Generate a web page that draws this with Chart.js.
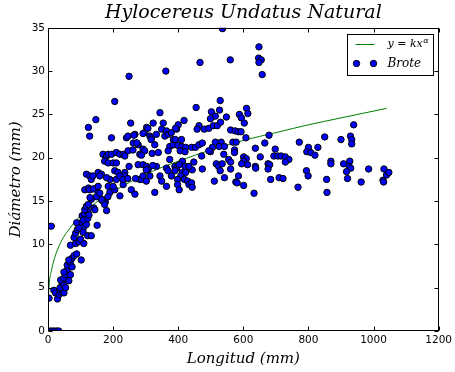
<!DOCTYPE html>
<html><head><meta charset="utf-8">
<script src="https://cdn.jsdelivr.net/npm/chart.js@4/dist/chart.umd.min.js"></script>
<style>html,body{margin:0;padding:0;background:#fff}canvas{display:block}</style>
</head><body>
<canvas id="c" width="455" height="372"></canvas>
<script>
const titleText = 'Hylocereus Undatus Natural';
const xTitle = 'Longitud (mm)';
const yTitle = 'Diámetro (mm)';
const fitLabel = 'y = kx';
const fitSup = 'α';
const broteLabel = 'Brote';
const xTickValues = [0, 200, 400, 600, 800, 1000, 1200];
const yTickValues = [0, 5, 10, 15, 20, 25, 30, 35];

const broteX = [
2,10,18,26,33,10,3,
18,23,29,34,39,44,49,37,44,49,54,39,49,54,59,49,64,59,69,74,64,80,88,74,69,102,69,85,95,110,100,80,85,90,98,88,105,110,118,95,108,122,133,105,112,122,108,122,126,151,141,166,176,180,
113,118,124,113,124,128,118,128,133,138,149,154,133,144,154,164,169,180,185,195,174,185,190,180,185,190,169,174,164,200,210,205,215,210,205,221,210,221,231,236,231,236,236,124,128,147,195,205,249,254,246,241,246,256,267,267,272,277,262,282,277,282,287,292,292,303,297,303,313,318,292,297,308,313,328,323,328,333,339,333,344,349,364,349,354,344,359,364,369,379,374,385,362,369,374,364,369,379,390,395,395,385,390,
264,292,307,273,261,287,317,320,249,159,220,230,245,269,302,302,322,139,154,149,159,184,200,129,
536,467,560,648,647,655,648,658,529,455,610,502,527,514,499,548,588,594,614,603,418,400,392,464,480,494,508,520,530,458,561,575,585,593,608,679,391,410,399,411,423,441,453,464,474,406,421,514,532,526,542,505,499,494,568,578,666,637,698,694,706,716,573,573,472,540,601,609,601,613,595,652,555,561,517,524,535,637,638,676,681,676,684,448,443,474,413,421,433,403,413,423,408,419,429,433,441,443,398,398,403,529,542,511,561,577,585,601,633,710,722,581,
772,800,795,807,820,829,850,900,929,933,933,939,729,740,729,768,794,799,856,857,869,869,908,927,925,930,917,920,962,985,1032,1040,1047,1029,1031
];
const broteY = [
0,0,0,0,0,12.1,3.8,
4.7,4.4,3.7,4.2,4.5,4.7,4.4,5.0,5.5,5.3,5.0,5.9,6.1,6.5,7.0,6.8,5.8,7.6,7.9,8.4,8.2,8.7,8.9,7.4,6.5,8.2,9.9,10.1,10.3,10.1,10.6,10.8,11.3,11.7,12.4,12.5,12.4,12.0,12.3,11.9,11.4,11.0,11.0,13.3,13.5,13.8,12.8,13.0,13.4,12.2,14.2,15.1,14.9,13.9,
14.0,14.4,14.6,16.3,16.5,16.3,18.1,17.9,17.5,17.9,16.5,16.0,15.2,14.0,18.3,18.1,20.4,20.2,20.4,20.4,19.6,19.4,17.5,17.7,16.7,16.0,15.0,14.6,15.2,19.4,19.4,18.5,18.3,17.5,16.3,15.6,20.6,20.4,20.4,20.2,16.9,18.3,17.9,23.5,22.5,24.4,22.3,26.5,29.4,24.0,20.8,22.3,22.5,16.3,15.8,22.7,21.7,21.5,21.7,20.4,19.2,17.5,17.5,17.9,19.2,19.0,22.9,23.5,22.5,22.3,21.0,20.8,18.7,17.9,16.0,24.0,21.5,22.7,20.6,19.0,17.9,17.3,16.7,23.3,24.0,25.2,22.5,23.1,22.7,22.9,21.3,21.5,30.0,20.8,19.8,18.8,18.5,17.9,19.0,18.8,23.3,22.1,18.5,
22.6,22.8,23.4,21.7,20.9,20.3,22.1,20.5,19.0,17.9,17.9,17.5,17.6,17.6,18.6,17.3,19.1,16.4,16.7,15.5,15.9,15.5,16.7,15.4,
34.9,31.0,31.3,32.8,31.5,31.3,31.0,29.6,26.6,25.8,25.7,25.3,25.5,24.8,24.5,24.7,25.0,24.6,25.1,24.0,24.3,23.8,23.4,23.7,23.3,23.4,23.7,23.7,24.1,23.3,23.2,23.1,23.0,23.0,22.3,22.6,22.1,22.1,21.4,21.3,21.2,21.2,21.2,21.5,21.7,20.8,20.7,21.8,21.8,21.3,21.3,21.2,20.7,20.8,21.8,21.8,21.7,21.1,21.0,20.2,20.2,20.2,20.9,20.6,20.2,20.4,20.1,19.9,19.6,19.2,19.3,20.1,19.8,19.5,19.3,19.0,19.3,19.0,18.8,19.3,19.2,18.7,17.5,19.5,18.6,18.7,19.6,19.0,19.0,19.2,18.3,18.3,17.9,17.5,17.3,16.9,17.1,16.6,17.5,16.9,16.3,18.5,17.7,17.3,18.7,17.2,17.9,16.8,15.9,17.7,17.6,17.1,
21.8,21.2,20.7,20.6,20.3,21.2,22.4,22.1,22.5,22.1,21.6,23.8,20.1,19.8,19.5,16.6,18.5,17.9,17.5,16.0,19.6,19.3,19.3,19.6,19.0,18.8,18.4,17.6,17.2,18.7,18.7,18.0,18.3,17.4,17.2
];
const fitX = [0, 0.5, 2, 5, 10, 20, 40, 70, 100, 150, 200, 300, 400, 500, 600, 700, 800, 900, 1040];
const fitY = [0, 3.0, 4.4, 5.9, 6.9, 8.4, 10.3, 12.0, 13.3, 14.9, 16.1, 18.1, 19.6, 20.9, 22.0, 22.9, 23.8, 24.6, 25.7];

const brotePoints = broteX.map((v, i) => ({x: v, y: broteY[i]}));
const fitPoints = fitX.map((v, i) => ({x: v, y: fitY[i]}));

const serif = '"DejaVu Serif", serif';
const sans = '"DejaVu Sans", sans-serif';

const decor = {
  id: 'decor',
  afterDraw(chart) {
    const {ctx, chartArea: a, scales: {x, y}} = chart;
    const L = Math.round(a.left) + 0.5, R = Math.round(a.right) - 0.5;
    const T = Math.round(a.top) + 0.5, B = Math.round(a.bottom) - 0.5;
    ctx.save();
    ctx.strokeStyle = '#000';
    ctx.lineWidth = 1;
    ctx.beginPath();
    xTickValues.forEach(v => {
      const p = Math.round(x.getPixelForValue(v)) + 0.5;
      ctx.moveTo(p, B); ctx.lineTo(p, B - 4);
      ctx.moveTo(p, T); ctx.lineTo(p, T + 4);
    });
    yTickValues.forEach(v => {
      const p = Math.round(y.getPixelForValue(v)) + 0.5;
      ctx.moveTo(L, p); ctx.lineTo(L + 4, p);
      ctx.moveTo(R, p); ctx.lineTo(R - 4, p);
    });
    ctx.stroke();
    ctx.strokeRect(L, T, R - L, B - T);

    // legend
    const bw = 86, bh = 41;
    const bx = Math.round(a.right) - 6 - bw + 0.5, by = Math.round(a.top) + 6 + 0.5;
    ctx.fillStyle = '#fff';
    ctx.fillRect(bx, by, bw, bh);
    ctx.strokeRect(bx, by, bw, bh);
    ctx.strokeStyle = '#008000';
    ctx.beginPath();
    ctx.moveTo(bx + 8, by + 10); ctx.lineTo(bx + 27, by + 10);
    ctx.stroke();
    ctx.fillStyle = '#000';
    ctx.textBaseline = 'middle';
    ctx.textAlign = 'left';
    ctx.font = 'italic 11px ' + serif;
    ctx.fillText(fitLabel, bx + 40, by + 10);
    const w = ctx.measureText(fitLabel).width;
    ctx.font = 'italic 8px ' + serif;
    ctx.fillText(fitSup, bx + 40 + w + 0.5, by + 6);
    ctx.font = 'italic 12px ' + serif;
    ctx.fillText(broteLabel, bx + 40, by + 29);
    [bx + 9, bx + 26].forEach(cx => {
      ctx.beginPath();
      ctx.arc(cx, by + 29, 3.2, 0, Math.PI * 2);
      ctx.fillStyle = '#0000ff';
      ctx.fill();
      ctx.strokeStyle = '#000';
      ctx.lineWidth = 1;
      ctx.stroke();
    });
    ctx.restore();
  }
};

new Chart(document.getElementById('c'), {
  type: 'scatter',
  data: {
    datasets: [
      {
        label: broteLabel,
        data: brotePoints,
        backgroundColor: '#0000ff',
        borderColor: '#000',
        borderWidth: 1,
        pointRadius: 3.2,
        pointHoverRadius: 3.2,
        clip: 0,
        order: 0
      },
      {
        type: 'line',
        label: 'fit',
        data: fitPoints,
        borderColor: '#008000',
        borderWidth: 1,
        pointRadius: 0,
        fill: false,
        cubicInterpolationMode: 'monotone',
        clip: 0,
        order: 1
      }
    ]
  },
  options: {
    responsive: false,
    animation: false,
    events: [],
    layout: {padding: {left: 0, right: 15, top: 0, bottom: 0}},
    plugins: {
      legend: {display: false},
      tooltip: {enabled: false},
      title: {
        display: true,
        text: titleText,
        fullSize: false,
        color: '#000',
        font: {family: serif, style: 'italic', size: 19, weight: 'normal', lineHeight: 1.2},
        padding: {top: 2, bottom: 3}
      }
    },
    scales: {
      x: {
        type: 'linear',
        min: 0, max: 1200,
        afterFit: s => { s.height = 41; },
        afterBuildTicks: s => { s.ticks = xTickValues.map(v => ({value: v})); },
        grid: {display: false, drawTicks: false},
        border: {display: false},
        ticks: {color: '#000', font: {family: sans, size: 10.5}, padding: 3, maxRotation: 0, autoSkip: false, callback: v => String(v)},
        title: {display: true, text: xTitle, color: '#000', font: {family: serif, style: 'italic', size: 15}, padding: {top: 0, bottom: 4}}
      },
      y: {
        type: 'linear',
        min: 0, max: 35,
        afterFit: s => { s.width = 48; },
        afterBuildTicks: s => { s.ticks = yTickValues.map(v => ({value: v})); },
        grid: {display: false, drawTicks: false},
        border: {display: false},
        ticks: {color: '#000', font: {family: sans, size: 10.5}, padding: 3, autoSkip: false, callback: v => String(v)},
        title: {display: true, text: yTitle, color: '#000', font: {family: serif, style: 'italic', size: 15}, padding: {top: 7, bottom: 0}}
      }
    }
  },
  plugins: [decor]
});
</script>
</body></html>
